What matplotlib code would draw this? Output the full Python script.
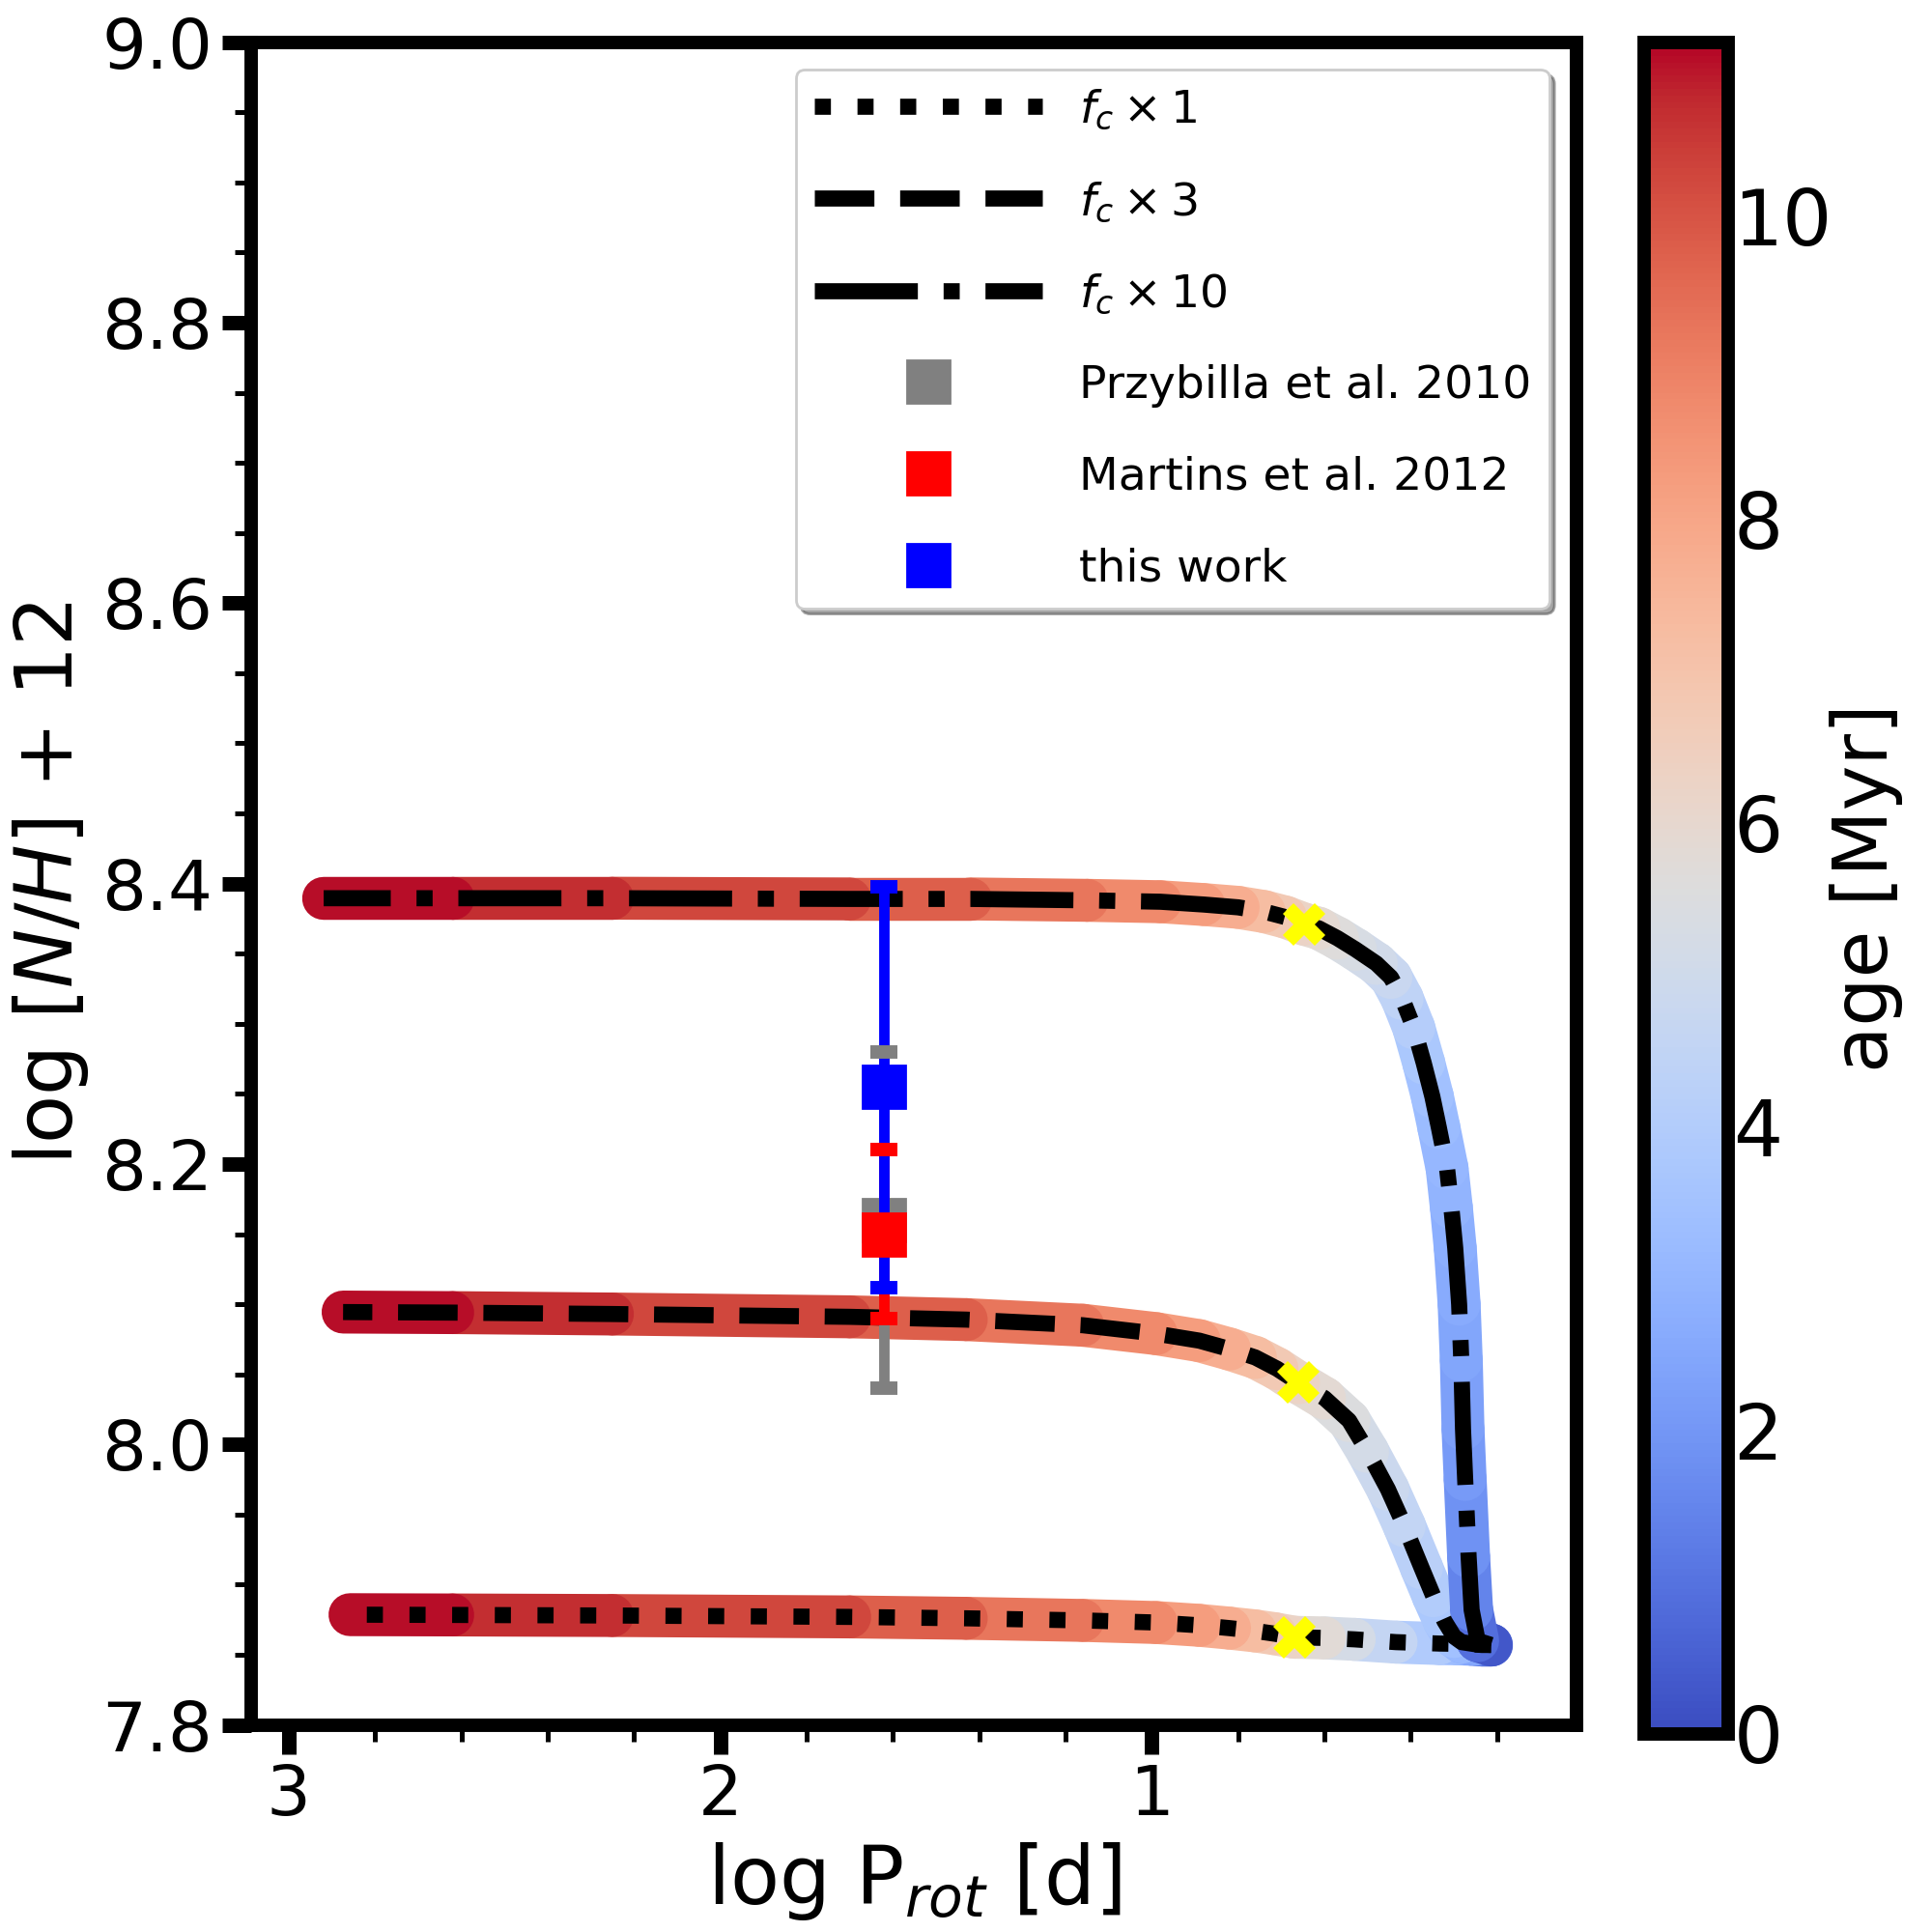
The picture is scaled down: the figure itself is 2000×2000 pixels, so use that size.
import numpy as np
import matplotlib
matplotlib.use("Agg")
import matplotlib.pyplot as plt
from matplotlib.collections import LineCollection
from matplotlib.lines import Line2D
from matplotlib.colors import Normalize
from matplotlib.cm import ScalarMappable
from matplotlib.ticker import MultipleLocator

# ---- model tracks (age in Myr, log P_rot in d, log[N/H]+12) ----
age_fc1 = [0.0, 1.0, 2.0, 3.0, 3.6, 4.3, 4.9, 5.5, 6.0, 6.5, 7.0, 7.5, 8.0, 8.5, 9.0, 9.5, 10.0, 10.5, 10.9, 11.14]
logp_fc1 = [0.214, 0.235, 0.26, 0.29, 0.334, 0.434, 0.531, 0.60, 0.67, 0.715, 0.76, 0.82, 0.89, 0.99, 1.16, 1.43, 1.70, 2.25, 2.62, 2.858]
nh_fc1 = [7.857, 7.857, 7.8575, 7.8578, 7.858, 7.859, 7.861, 7.862, 7.8625, 7.865, 7.867, 7.869, 7.871, 7.873, 7.8745, 7.876, 7.877, 7.878, 7.8784, 7.8786]

age_fc3 = [0.0, 2.0, 3.0, 3.3, 3.6, 3.9, 4.1, 4.4, 4.7, 5.0, 5.3, 5.7, 6.0, 6.5, 7.0, 7.5, 8.0, 8.5, 9.0, 9.5, 10.0, 10.5, 10.9, 11.14]
logp_fc3 = [0.214, 0.25, 0.282, 0.30, 0.322, 0.348, 0.375, 0.415, 0.453, 0.50, 0.543, 0.60, 0.66, 0.71, 0.76, 0.82, 0.89, 0.99, 1.16, 1.43, 1.70, 2.25, 2.62, 2.874]
nh_fc3 = [7.857, 7.8575, 7.859, 7.863, 7.874, 7.892, 7.912, 7.942, 7.968, 7.995, 8.017, 8.033, 8.044, 8.054, 8.062, 8.068, 8.074, 8.079, 8.085, 8.089, 8.091, 8.093, 8.094, 8.0944]

age_fc10 = [0.0, 0.6, 1.2, 1.7, 2.0, 2.2, 2.4, 2.55, 2.7, 2.85, 3.0, 3.15, 3.3, 3.6, 3.9, 4.2, 4.6, 4.9, 5.2, 5.5, 5.8, 6.0,
            6.5, 7.0, 7.5, 8.0, 8.5, 9.0, 9.5, 10.0, 10.5, 10.9, 11.14]
logp_fc10 = [0.214, 0.245, 0.259, 0.266, 0.274, 0.279, 0.283, 0.288, 0.297, 0.306, 0.316, 0.335, 0.35, 0.37, 0.393, 0.42, 0.446, 0.48, 0.528, 0.57, 0.613, 0.647,
             0.69, 0.74, 0.80, 0.88, 0.98, 1.15, 1.42, 1.70, 2.25, 2.62, 2.919]
nh_fc10 = [7.857, 7.860, 7.882, 7.92, 7.975, 8.011, 8.06, 8.10, 8.14, 8.169, 8.197, 8.226, 8.248, 8.272, 8.297, 8.318, 8.333, 8.343, 8.353, 8.361, 8.368, 8.371,
           8.376, 8.380, 8.383, 8.385, 8.387, 8.388, 8.389, 8.389, 8.3895, 8.3895, 8.3895]

track_labels = [r"$f_c \times 1$", r"$f_c \times 3$", r"$f_c \times 10$"]
track_styles = [":", "--", "-."]

# yellow crosses on each track
cross_logp = [0.67, 0.66, 0.647]
cross_nh = [7.8625, 8.044, 8.371]

# observed nitrogen abundances
obs_labels = ["Przybilla et al. 2010", "Martins et al. 2012", "this work"]
obs_logp = [1.62, 1.62, 1.62]
obs_nh = [8.16, 8.15, 8.255]
obs_err = [0.12, 0.06, 0.143]
obs_colors = ["grey", "red", "blue"]

tracks = [(age_fc1, logp_fc1, nh_fc1), (age_fc3, logp_fc3, nh_fc3), (age_fc10, logp_fc10, nh_fc10)]
age_max = max(max(t[0]) for t in tracks)
norm = Normalize(vmin=0, vmax=age_max)
cmap = plt.get_cmap("coolwarm")

fig = plt.figure(figsize=(10, 10), dpi=200)
ax = fig.add_axes([0.130, 0.1072, 0.686, 0.871])
cax = fig.add_axes([0.851, 0.1025, 0.0435, 0.8755])

# coloured age tracks
for age, logp, nh in tracks:
    age = np.asarray(age)
    pts = np.column_stack([logp, nh])
    segs = np.stack([pts[:-1], pts[1:]], axis=1)
    lc = LineCollection(segs, cmap=cmap, norm=norm, linewidths=16,
                        capstyle="round", joinstyle="round", zorder=2)
    lc.set_array(0.5 * (age[:-1] + age[1:]))
    ax.add_collection(lc)

for (age, logp, nh), ls in zip(tracks, track_styles):
    ax.plot(logp, nh, color="k", ls=ls, lw=6, zorder=3)

ax.plot(cross_logp, cross_nh, "X", color="yellow", ms=16, mew=0, zorder=8)

# error bars, layered like the original
bar_z = {"grey": 3.0, "red": 3.1, "blue": 4.0}
cap_z = {"grey": 5.0, "red": 5.0, "blue": 6.0}
sq_z = {"grey": 3.2, "red": 5.1, "blue": 6.1}
for x, y, e, c in zip(obs_logp, obs_nh, obs_err, obs_colors):
    eb = ax.errorbar(x, y, yerr=e, fmt="none", ecolor=c, elinewidth=3.9,
                     capsize=5, capthick=5)
    for cl in eb[1]:
        cl.set_zorder(cap_z[c])
    for bl in eb[2]:
        bl.set_zorder(bar_z[c])
    ax.plot(x, y, "s", color=c, ms=15.5, zorder=sq_z[c])

ax.set_xlim(3.087, 0.016)
ax.set_ylim(7.8, 9.0)
ax.xaxis.set_major_locator(MultipleLocator(1))
ax.xaxis.set_minor_locator(MultipleLocator(0.2))
ax.yaxis.set_major_locator(MultipleLocator(0.2))
ax.yaxis.set_minor_locator(MultipleLocator(0.05))
ax.tick_params(which="major", length=10.8, width=5.4, labelsize=26)
ax.tick_params(which="minor", length=6, width=1.8)
for sp in ax.spines.values():
    sp.set_linewidth(5)

ax.set_xlabel(r"log P$_{rot}$ [d]", fontsize=30)
ax.set_ylabel(r"log $[N/H]$ + 12", fontsize=29.5)

handles = [Line2D([], [], color="k", ls=ls, lw=6) for ls in track_styles]
handles += [Line2D([], [], color=c, marker="s", ls="none", ms=15.5) for c in obs_colors]
ax.legend(handles, track_labels + obs_labels, loc="upper right", fontsize=17,
          handlelength=5, labelspacing=1.05, shadow=True, borderaxespad=0.6)

sm = ScalarMappable(norm=norm, cmap=cmap)
cb = fig.colorbar(sm, cax=cax)
cb.outline.set_linewidth(5)
cb.ax.tick_params(length=0, pad=2, labelsize=29)
cb.set_label("age [Myr]", fontsize=28.5, labelpad=-1)

fig.savefig("out.png", dpi=200)
